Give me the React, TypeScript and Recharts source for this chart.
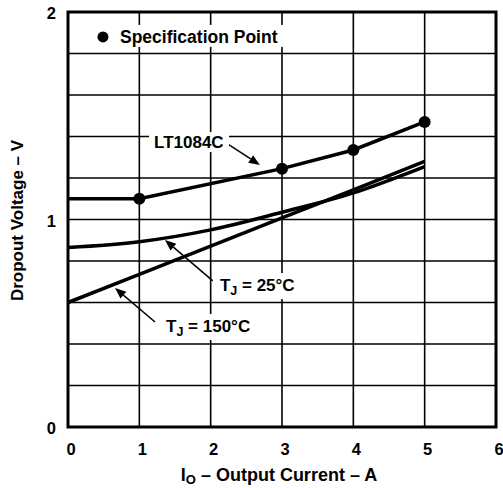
import React from 'react';
import { ComposedChart, Line, Scatter, XAxis, YAxis, CartesianGrid, ReferenceArea, ReferenceDot, ReferenceLine, Label } from 'recharts';

// LT1084C dropout voltage vs output current
const ltCurrents = [0, 1, 3, 4, 5];
const ltVolts = [1.1, 1.1, 1.245, 1.335, 1.47];

const specCurrents = [1, 3, 4, 5];
const specVolts = [1.1, 1.245, 1.335, 1.47];

const t25Currents = [0, 1, 2, 3, 4, 5];
const t25Volts = [0.865, 0.893, 0.95, 1.035, 1.128, 1.255];

const t150Currents = [0, 1, 2, 3, 4, 5];
const t150Volts = [0.6, 0.735, 0.872, 1.008, 1.143, 1.28];

const xTicks = [0, 1, 2, 3, 4, 5, 6];
const yTicks = [0, 0.2, 0.4, 0.6, 0.8, 1, 1.2, 1.4, 1.6, 1.8, 2];
const yLabels = [0, 1, 2];

const pairs = (xs: number[], ys: number[]) => xs.map((i, k) => ({ i, v: ys[k] }));
const ltData = pairs(ltCurrents, ltVolts);
const specData = pairs(specCurrents, specVolts);
const t25Data = pairs(t25Currents, t25Volts);
const t150Data = pairs(t150Currents, t150Volts);

const FONT = '"Liberation Sans", Arial, sans-serif';

const XTick = (p: any) => (
  <text x={p.x + 3} y={p.y + 26} textAnchor="middle" fontFamily={FONT} fontWeight="bold" fontSize={16.5} fill="#000">
    {p.payload.value}
  </text>
);

const YTick = (p: any) => {
  if (!yLabels.includes(p.payload.value)) return <g />;
  return (
    <text x={p.x} y={p.y + 7} textAnchor="end" fontFamily={FONT} fontWeight="bold" fontSize={16.5} fill="#000">
      {p.payload.value}
    </text>
  );
};

const Arrow = (p: any) => {
  const { x1, y1, x2, y2 } = p;
  const a = Math.atan2(y2 - y1, x2 - x1);
  const len = 11, w = 4.5;
  const bx = x2 - len * Math.cos(a), by = y2 - len * Math.sin(a);
  const nx = -Math.sin(a) * w, ny = Math.cos(a) * w;
  return (
    <g>
      <line x1={x1} y1={y1} x2={bx} y2={by} stroke="#000" strokeWidth={1.5} />
      <polygon points={`${x2},${y2} ${bx + nx},${by + ny} ${bx - nx},${by - ny}`} fill="#000" />
    </g>
  );
};

const tempLabel = (temp: string, w: number) => (p: any) => (
  <g>
    <rect x={p.cx - 7} y={p.cy - 12} width={w} height={26} fill="#fff" />
    <text x={p.cx} y={p.cy + 6} fontFamily={FONT} fontWeight="bold" fontSize={17} fill="#000">
      T<tspan fontSize={12.5} dy={4}>J</tspan><tspan dy={-4}>{` = ${temp}`}</tspan>
    </text>
  </g>
);

const partLabel = (p: any) => (
  <g>
    <rect x={p.cx - 5} y={p.cy - 10} width={80} height={20} fill="#fff" />
    <text x={p.cx} y={p.cy + 6} fontFamily={FONT} fontWeight="bold" fontSize={17} fill="#000">LT1084C</text>
  </g>
);

const specLegend = (p: any) => (
  <g>
    <rect x={p.cx + 12} y={p.cy - 12} width={174} height={22} fill="#fff" />
    <circle cx={p.cx} cy={p.cy} r={5.5} fill="#000" />
    <text x={p.cx + 17} y={p.cy + 6} fontFamily={FONT} fontWeight="bold" fontSize={17.5} fill="#000">Specification Point</text>
  </g>
);

const XTitle = (p: any) => {
  const { x, y, width } = p.viewBox;
  return (
    <text x={x + width / 2 - 3} y={y + 54} textAnchor="middle" fontFamily={FONT} fontWeight="bold" fontSize={18} fill="#000">
      I<tspan fontSize={13} dy={3}>O</tspan><tspan dy={-3}> – Output Current – A</tspan>
    </text>
  );
};

const YTitle = (p: any) => {
  const { x, y, width, height } = p.viewBox;
  const cx = x + width - 45, cy = y + height / 2 + 1;
  return (
    <text x={cx} y={cy} transform={`rotate(-90, ${cx}, ${cy})`} textAnchor="middle" fontFamily={FONT} fontWeight="bold" fontSize={17} fill="#000">
      Dropout Voltage – V
    </text>
  );
};

export default function App() {
  return (
    <div style={{ position: 'absolute', left: 0, top: 0, background: '#fff' }}>
      <ComposedChart width={503} height={488} margin={{ top: 12, right: 7, bottom: 0, left: 0 }}>
        <CartesianGrid stroke="#000" strokeWidth={1.6} horizontalValues={yTicks} verticalValues={xTicks} />
        <XAxis type="number" dataKey="i" domain={[0, 6]} ticks={xTicks} height={61} axisLine={false} tickLine={false} tickSize={0} tick={<XTick />} interval={0}>
          <Label content={<XTitle />} />
        </XAxis>
        <YAxis type="number" dataKey="v" domain={[0, 2]} ticks={yTicks} width={68} axisLine={false} tickLine={false} tickSize={0} tickMargin={12} tick={<YTick />} interval={0}>
          <Label content={<YTitle />} />
        </YAxis>
        <ReferenceArea x1={0} x2={6} y1={0} y2={2} fill="none" stroke="#000" strokeWidth={3} ifOverflow="visible" />
        <ReferenceDot x={0.49} y={1.88} r={0} shape={specLegend} ifOverflow="visible" />
        <ReferenceDot x={1.206} y={1.373} r={0} shape={partLabel} ifOverflow="visible" />
        <ReferenceDot x={2.13} y={0.684} r={0} shape={tempLabel('25°C', 92)} ifOverflow="visible" />
        <ReferenceDot x={1.374} y={0.487} r={0} shape={tempLabel('150°C', 102)} ifOverflow="visible" />
        <Line data={ltData} dataKey="v" type="linear" stroke="#000" strokeWidth={3.5} dot={false} isAnimationActive={false} />
        <Line data={t25Data} dataKey="v" type="monotone" stroke="#000" strokeWidth={3.5} dot={false} isAnimationActive={false} />
        <Line data={t150Data} dataKey="v" type="linear" stroke="#000" strokeWidth={3.5} dot={false} isAnimationActive={false} />
        <Scatter data={specData} dataKey="v" fill="#000" shape={(p: any) => <circle cx={p.cx} cy={p.cy} r={6} fill="#000" />} isAnimationActive={false} />
        <ReferenceLine segment={[{ x: 2.215, y: 1.369 }, { x: 2.69, y: 1.263 }]} shape={<Arrow />} />
        <ReferenceLine segment={[{ x: 2.03, y: 0.704 }, { x: 1.36, y: 0.901 }]} shape={<Arrow />} />
        <ReferenceLine segment={[{ x: 1.22, y: 0.506 }, { x: 0.659, y: 0.67 }]} shape={<Arrow />} />
      </ComposedChart>
    </div>
  );
}
